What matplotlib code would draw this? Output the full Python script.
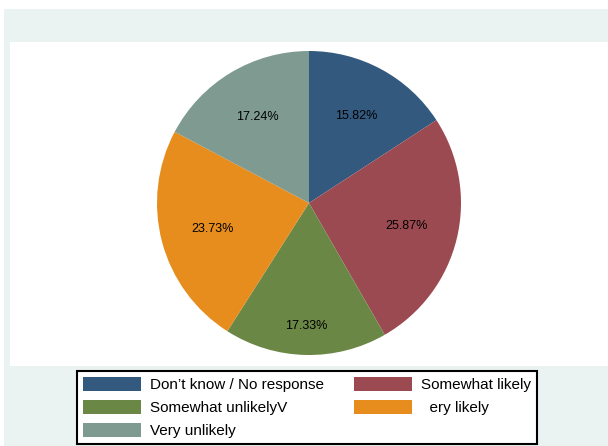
import matplotlib
matplotlib.use("Agg")
import matplotlib.pyplot as plt
import numpy as np
from matplotlib.patches import Rectangle, Patch

categories = ["Don\u2019t know / No response", "Somewhat likely", "Somewhat unlikelyV",
              "  ery likely", "Very unlikely"]
shares = [15.82, 25.87, 17.33, 23.73, 17.24]
colors = ["#335A7E", "#9C4A51", "#6A8745", "#E68D1E", "#7F9B91"]
label_dist = [0.65, 0.66, 0.81, 0.66, 0.66]

plt.rcParams['font.family'] = ['Liberation Sans', 'DejaVu Sans']

W, H = 608, 446
fig = plt.figure(figsize=(W / 100, H / 100), dpi=100)
fig.patch.set_facecolor("white")

# outer light background
fig.patches.append(Rectangle((4 / W, 0), 1 - 4 / W, 1 - 9 / H, transform=fig.transFigure,
                             facecolor="#EAF2F2", edgecolor="none", zorder=-10))
# plot region
fig.patches.append(Rectangle((10 / W, 1 - 366 / H), 1 - 10 / W, (366 - 42) / H,
                             transform=fig.transFigure, facecolor="white",
                             edgecolor="none", zorder=-9))

cx, cy, r = 309, 203, 152
ax = fig.add_axes([(cx - r) / W, 1 - (cy + r) / H, 2 * r / W, 2 * r / H])
ax.set_facecolor("none")
ax.set_zorder(1)
wedges, texts = ax.pie(shares, colors=colors, startangle=90, counterclock=False,
                       wedgeprops=dict(linewidth=0))
for w, v, d in zip(wedges, shares, label_dist):
    ang = np.deg2rad((w.theta1 + w.theta2) / 2)
    ax.text(d * np.cos(ang), d * np.sin(ang), f"{v:.2f}%", ha="center", va="center",
            fontsize=9, color="black")
ax.set_aspect("equal")
ax.set_xlim(-1, 1)
ax.set_ylim(-1, 1)

# legend filled row-wise (two columns)
order = [0, 2, 4, 1, 3]
handles = [Patch(facecolor=colors[i], edgecolor="none") for i in order]
labels = [categories[i] for i in order]
leg = fig.legend(handles, labels, ncol=2, loc="upper left",
                 bbox_to_anchor=(77 / W, 1 - 371 / H), fontsize=11,
                 frameon=True, fancybox=False, shadow=False,
                 handlelength=3.8, handleheight=1.05, handletextpad=0.6,
                 columnspacing=1.95, labelspacing=0.5, borderpad=0.38,
                 borderaxespad=0)
leg.get_frame().set_edgecolor("black")
leg.get_frame().set_linewidth(1.5)
leg.get_frame().set_alpha(1)
leg.get_frame().set_facecolor("white")

fig.savefig("out.png", dpi=100)
